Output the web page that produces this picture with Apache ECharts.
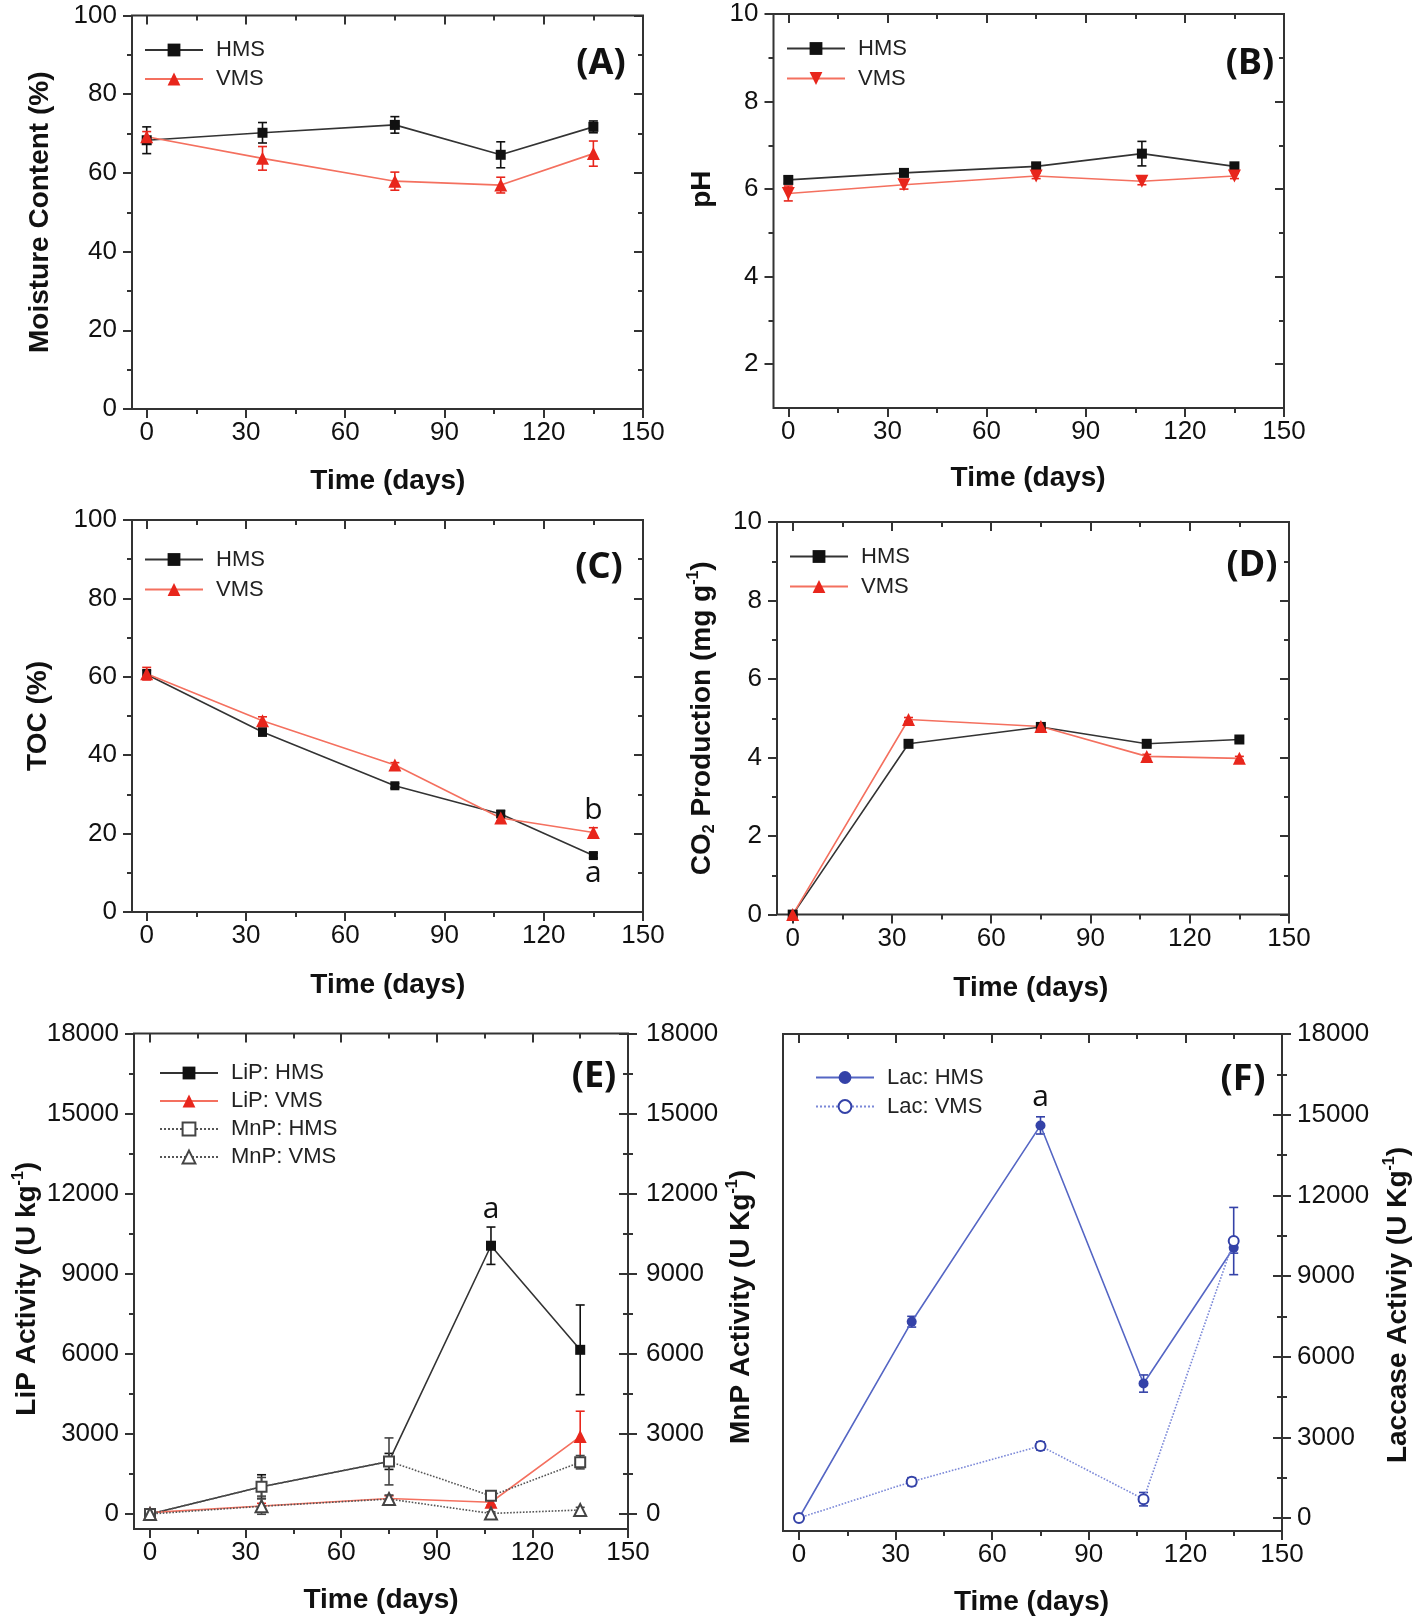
<!DOCTYPE html>
<html><head><meta charset="utf-8">
<script src="https://cdn.jsdelivr.net/npm/echarts@6/dist/echarts.min.js"></script>
<style>html,body{margin:0;padding:0;background:#fff}#c{width:1418px;height:1621px}</style>
</head><body><div id="c"></div>
<script>
// ---------------- DATA ----------------
const days = [0, 35, 75, 107, 135];

const moistHMS = [68.3, 70.2, 72.2, 64.6, 71.7];
const moistHMSErr = [3.4, 2.6, 2.1, 3.3, 1.5];
const moistVMS = [69.2, 63.7, 57.9, 56.9, 64.9];
const moistVMSErr = [1.3, 3.0, 2.3, 2.0, 3.2];

const phHMS = [6.21, 6.37, 6.52, 6.81, 6.52];
const phHMSErr = [0.08, 0.06, 0.07, 0.28, 0.06];
const phVMS = [5.90, 6.10, 6.30, 6.18, 6.30];
const phVMSErr = [0.17, 0.10, 0.06, 0.08, 0.06];

const tocHMS = [60.6, 45.9, 32.2, 25.0, 14.4];
const tocHMSErr = [1.2, 1.0, 0.6, 0.8, 0.6];
const tocVMS = [60.8, 48.8, 37.5, 24.0, 20.3];
const tocVMSErr = [1.6, 1.0, 0.6, 0.8, 1.2];

const co2HMS = [0, 4.35, 4.78, 4.35, 4.46];
const co2HMSErr = [0.05, 0.05, 0.05, 0.05, 0.05];
const co2VMS = [0, 4.97, 4.79, 4.03, 3.98];
const co2VMSErr = [0.05, 0.05, 0.05, 0.05, 0.05];

const lipHMS = [0, 1020, 1970, 10050, 6150];
const lipHMSErr = [80, 450, 300, 700, 1680];
const lipVMS = [50, 300, 580, 440, 2900];
const lipVMSErr = [100, 100, 100, 100, 950];
const mnpHMS = [0, 1020, 1970, 680, 1940];
const mnpHMSErr = [100, 350, 880, 150, 250];
const mnpVMS = [0, 290, 560, 20, 150];
const mnpVMSErr = [50, 300, 150, 60, 100];

const lacHMS = [0, 7300, 14600, 5000, 10050];
const lacHMSErr = [80, 200, 320, 320, 200];
const lacVMS = [0, 1350, 2680, 700, 10300];
const lacVMSErr = [80, 150, 150, 250, 1250];

const xTickStep = 30;
const panelTags = ['(A)', '(B)', '(C)', '(D)', '(E)', '(F)'];

// ---------------- STYLE / LAYOUT ----------------
const FONT = "Liberation Sans";
const ANNOT = "Open Sans";
const AX = '#333';
const BLACK = '#111', BLACK_LINE = '#333';
const RED = '#e8261c', RED_LINE = '#f4705f';
const BLUE = '#3442a8', BLUE_LINE = '#5566c4', BLUE_DOT = '#7b88d8';
const TICK_FS = 26, NAME_FS = 28, LEG_FS = 22;
const plain = v => String(v);

const grids = [], xAxes = [], yAxes = [], series = [], legends = [], titles = [];

function mkName(fs) {
  return {
    fontFamily: FONT, fontWeight: 'bold', fontSize: fs, color: '#111', lineHeight: 32,
    rich: {
      sup: {fontFamily: FONT, fontWeight: 'bold', fontSize: 16, verticalAlign: 'top', lineHeight: 32, color: '#111'},
      sub: {fontFamily: FONT, fontWeight: 'bold', fontSize: 16, verticalAlign: 'bottom', lineHeight: 26, color: '#111'}
    }
  };
}

function panel(cfg) {
  const [fL, fT, fR, fB] = cfg.frame;
  const [dL, dT, dR, dB] = cfg.data;
  const fg = grids.length;
  grids.push({left: fL, top: fT, width: fR - fL, height: fB - fT, show: true, borderColor: AX, borderWidth: 2, backgroundColor: 'rgba(0,0,0,0)'});
  const dg = grids.length;
  grids.push({left: dL, top: dT, width: dR - dL, height: dB - dT, show: false});
  xAxes.push({gridIndex: fg, type: 'value', show: false, min: 0, max: 1});
  yAxes.push({gridIndex: fg, type: 'value', show: false, min: 0, max: 1});
  const tickStyle = {color: AX, width: 2};
  const bx = xAxes.length;
  xAxes.push({
    gridIndex: dg, type: 'value', min: 0, max: 150, interval: xTickStep, position: 'bottom',
    offset: fB - dB,
    axisLine: {show: false, onZero: false},
    axisTick: {show: true, length: 9, lineStyle: tickStyle},
    minorTick: {show: true, splitNumber: 2, length: 5, lineStyle: tickStyle},
    splitLine: {show: false}, minorSplitLine: {show: false},
    axisLabel: {margin: 11, fontSize: TICK_FS, fontFamily: FONT, color: '#111', formatter: plain},
    name: 'Time (days)', nameLocation: 'middle', nameGap: cfg.xNameGap,
    nameTextStyle: Object.assign(mkName(NAME_FS), {padding: [0, cfg.xNameShift || 0, 0, 0]})
  });
  xAxes.push({
    gridIndex: dg, type: 'value', min: 0, max: 150, interval: xTickStep, position: 'top',
    offset: dT - fT,
    axisLine: {show: false, onZero: false},
    axisTick: {show: true, inside: true, length: 9, lineStyle: tickStyle},
    minorTick: {show: true, splitNumber: 2, length: 5, lineStyle: tickStyle},
    splitLine: {show: false}, axisLabel: {show: false}
  });
  const ly = yAxes.length;
  yAxes.push({
    gridIndex: dg, type: 'value', min: cfg.ymin, max: cfg.ymax, interval: cfg.yint, position: 'left',
    offset: dL - fL,
    axisLine: {show: false, onZero: false},
    axisTick: {show: !cfg.noLeftTicks, length: 9, lineStyle: tickStyle},
    minorTick: {show: !cfg.noLeftTicks, splitNumber: 2, length: 5, lineStyle: tickStyle},
    splitLine: {show: false},
    axisLabel: {show: !cfg.noLeftLabels, margin: cfg.yLabelMargin || 15, fontSize: TICK_FS, fontFamily: FONT, color: '#111', formatter: plain},
    name: cfg.yName, nameLocation: 'middle', nameGap: cfg.yNameGap,
    nameTextStyle: Object.assign(mkName(NAME_FS), {padding: [0, cfg.yNameShift || 0, 0, 0]})
  });
  yAxes.push({
    gridIndex: dg, type: 'value', min: cfg.ymin, max: cfg.ymax, interval: cfg.yint, position: 'right',
    offset: fR - dR,
    axisLine: {show: false, onZero: false},
    axisTick: {show: true, inside: true, length: 9, lineStyle: tickStyle},
    minorTick: {show: true, splitNumber: 2, length: 5, lineStyle: tickStyle},
    splitLine: {show: false}, axisLabel: {show: false}
  });
  if (cfg.rightLabels) {
    yAxes.push({
      gridIndex: dg, type: 'value', min: cfg.ymin, max: cfg.ymax, interval: cfg.yint, position: 'right',
      offset: fR - dR,
      axisLine: {show: false, onZero: false},
      axisTick: {show: true, inside: false, length: 9, lineStyle: tickStyle},
      minorTick: {show: true, splitNumber: 2, length: 5, lineStyle: tickStyle},
      splitLine: {show: false},
      axisLabel: {show: true, margin: cfg.rLabelMargin || 16, fontSize: TICK_FS, fontFamily: FONT, color: '#111', formatter: plain},
      name: cfg.rName || '', nameLocation: 'middle', nameGap: cfg.rNameGap || 20,
      nameTextStyle: Object.assign(mkName(NAME_FS), {padding: [0, cfg.rNameShift || 0, 0, 0]})
    });
  }
  const names = [];
  cfg.lines.forEach(s => {
    const nm = s.name + '#' + cfg.id;
    names.push(nm);
    series.push({
      type: 'custom', xAxisIndex: bx, yAxisIndex: ly, silent: true, z: 2,
      data: days.map((d, i) => [d, s.vals[i] - s.err[i], s.vals[i] + s.err[i]]),
      encode: {x: 0, y: [1, 2]},
      renderItem: (params, api) => {
        const lo = api.coord([api.value(0), api.value(1)]);
        const hi = api.coord([api.value(0), api.value(2)]);
        const w = 4.5, st = {stroke: s.errColor || s.color, lineWidth: 1.6};
        return {type: 'group', children: [
          {type: 'line', shape: {x1: lo[0], y1: lo[1], x2: hi[0], y2: hi[1]}, style: st},
          {type: 'line', shape: {x1: lo[0] - w, y1: lo[1], x2: lo[0] + w, y2: lo[1]}, style: st},
          {type: 'line', shape: {x1: hi[0] - w, y1: hi[1], x2: hi[0] + w, y2: hi[1]}, style: st}
        ]};
      }
    });
    series.push({
      type: 'line', name: nm, xAxisIndex: bx, yAxisIndex: ly, z: 3,
      data: days.map((d, i) => [d, s.vals[i]]),
      symbol: s.symbol, symbolSize: s.size || 10, symbolRotate: s.rot || 0, showAllSymbol: true,
      itemStyle: {color: s.color, borderColor: s.color, borderWidth: s.symbol.startsWith('empty') ? 1.5 : 0},
      lineStyle: {color: s.lineColor, width: s.lw || 1.6, type: s.dash || 'solid'},
      emphasis: {disabled: true}
    });
  });
  (cfg.annots || []).forEach(a => {
    series.push({
      type: 'scatter', xAxisIndex: bx, yAxisIndex: ly, silent: true, symbolSize: 1,
      itemStyle: {color: 'rgba(0,0,0,0)'},
      data: [[a.x, a.y]],
      label: {show: true, formatter: a.text, position: a.pos, distance: a.dist, fontFamily: ANNOT,
        fontSize: 30, color: '#111', opacity: 1},
      z: 5
    });
  });
  legends.push({
    data: names, orient: 'vertical', left: cfg.legend[0], top: cfg.legend[1], padding: 0,
    itemWidth: cfg.legW || 58, itemHeight: 16, itemGap: cfg.legGap || 5,
    formatter: n => n.split('#')[0], selectedMode: false,
    textStyle: {fontFamily: FONT, fontSize: LEG_FS, color: '#222', lineHeight: 24, padding: [0, 0, 0, 8]}
  });
  titles.push({
    text: cfg.tag, left: cfg.tagPos[0], top: cfg.tagPos[1], textAlign: 'center', textVerticalAlign: 'middle',
    textStyle: {fontFamily: "Noto Sans", fontWeight: 'bold', fontSize: 36, color: '#111'}
  });
}

const hmsSq = {symbol: 'rect', size: 10, color: BLACK, lineColor: BLACK_LINE};
const vmsTri = {symbol: 'triangle', size: 13, color: RED, lineColor: RED_LINE};

panel({id: 'A', frame: [132, 15.5, 643, 409], data: [146.7, 15.5, 643, 409], ymin: 0, ymax: 100, yint: 20,
  yName: 'Moisture Content (%)', yNameGap: 76, xNameGap: 56, xNameShift: 14,
  lines: [Object.assign({name: 'HMS', vals: moistHMS, err: moistHMSErr}, hmsSq),
          Object.assign({name: 'VMS', vals: moistVMS, err: moistVMSErr}, vmsTri)],
  legend: [144, 38], tag: panelTags[0], tagPos: [596, 59]});

panel({id: 'B', frame: [773.5, 14, 1284, 408], data: [788.3, 14, 1284, 364.2], ymin: 2, ymax: 10, yint: 2,
  yName: 'pH', yNameGap: 55, xNameGap: 54, xNameShift: 16,
  lines: [Object.assign({name: 'HMS', vals: phHMS, err: phHMSErr}, hmsSq),
          Object.assign({name: 'VMS', vals: phVMS, err: phVMSErr}, vmsTri, {rot: 180})],
  legend: [786, 36.5], legGap: 6, tag: panelTags[1], tagPos: [1245, 59]});

panel({id: 'C', frame: [132, 520, 643, 912], data: [146.7, 520, 643, 912], ymin: 0, ymax: 100, yint: 20,
  yName: 'TOC (%)', yNameGap: 78, xNameGap: 57, xNameShift: 14,
  lines: [Object.assign({name: 'HMS', vals: tocHMS, err: tocHMSErr}, hmsSq, {size: 9}),
          Object.assign({name: 'VMS', vals: tocVMS, err: tocVMSErr}, vmsTri)],
  annots: [{x: days[4], y: tocVMS[4], text: 'b', pos: 'top', dist: 6},
           {x: days[4], y: tocHMS[4], text: 'a', pos: 'bottom', dist: 2}],
  legend: [144, 547.5], legGap: 6, tag: panelTags[2], tagPos: [594, 563]});

panel({id: 'D', frame: [777, 522, 1289, 914.6], data: [792.7, 522, 1289, 914.6], ymin: 0, ymax: 10, yint: 2,
  yName: 'CO{sub|2} Production (mg g{sup|-1})', yNameGap: 59, xNameGap: 58, xNameShift: 20,
  lines: [Object.assign({name: 'HMS', vals: co2HMS, err: co2HMSErr}, hmsSq),
          Object.assign({name: 'VMS', vals: co2VMS, err: co2VMSErr}, vmsTri)],
  legend: [789, 544.5], legGap: 6, tag: panelTags[3], tagPos: [1247, 561]});

panel({id: 'E', frame: [134, 1033.5, 628, 1529], data: [150, 1033.5, 628, 1514], ymin: 0, ymax: 18000, yint: 3000,
  yName: 'LiP Activity (U kg{sup|-1})', yNameGap: 80, yNameShift: 30, xNameGap: 55, xNameShift: 16,
  rightLabels: true, rLabelMargin: 18, rName: '',
  lines: [Object.assign({name: 'LiP: HMS', vals: lipHMS, err: lipHMSErr}, hmsSq),
          Object.assign({name: 'LiP: VMS', vals: lipVMS, err: lipVMSErr}, vmsTri),
          {name: 'MnP: HMS', vals: mnpHMS, err: mnpHMSErr, symbol: 'emptyRect', size: 10, color: '#444', lineColor: '#555', dash: 'dotted', lw: 1.6},
          {name: 'MnP: VMS', vals: mnpVMS, err: mnpVMSErr, symbol: 'emptyTriangle', size: 12, color: '#444', lineColor: '#555', dash: 'dotted', lw: 1.6}],
  annots: [{x: days[3], y: lipHMS[3] + lipHMSErr[3], text: 'a', pos: 'top', dist: 2}],
  legend: [159, 1061], legGap: 4, tag: panelTags[4], tagPos: [589, 1072]});

panel({id: 'F', frame: [783, 1034, 1282, 1531], data: [799, 1034, 1282, 1518], ymin: 0, ymax: 18000, yint: 3000,
  yName: 'MnP Activity (U Kg{sup|-1})', yNameGap: 26, yNameShift: 62, noLeftTicks: true, noLeftLabels: true,
  xNameGap: 55, xNameShift: 18,
  rightLabels: true, rLabelMargin: 15, rName: 'Laccase Activiy (U Kg{sup|-1})', rNameGap: 100, rNameShift: 58,
  lines: [{name: 'Lac: HMS', vals: lacHMS, err: lacHMSErr, symbol: 'circle', size: 10, color: BLUE, lineColor: BLUE_LINE, errColor: BLUE},
          {name: 'Lac: VMS', vals: lacVMS, err: lacVMSErr, symbol: 'emptyCircle', size: 10, color: BLUE, lineColor: BLUE_DOT, dash: 'dotted', errColor: BLUE}],
  annots: [{x: days[2], y: lacHMS[2] + lacHMSErr[2], text: 'a', pos: 'top', dist: 4}],
  legend: [815, 1065.5], legGap: 5, tag: panelTags[5], tagPos: [1238, 1075]});

const chart = echarts.init(document.getElementById('c'), null, {renderer: 'canvas'});
chart.setOption({
  animation: false, backgroundColor: '#fff',
  grid: grids, xAxis: xAxes, yAxis: yAxes, series: series, legend: legends, title: titles
});
</script></body></html>
